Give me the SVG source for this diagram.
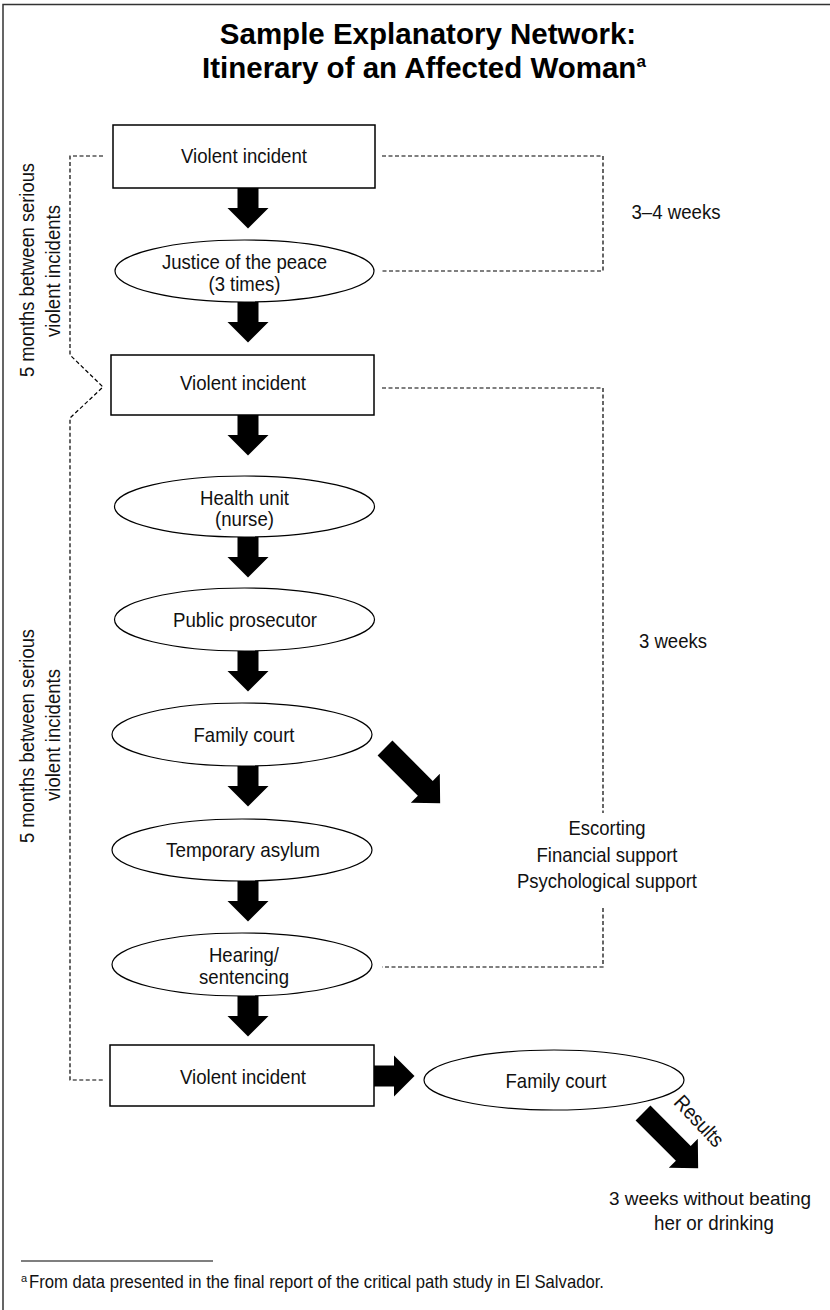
<svg xmlns="http://www.w3.org/2000/svg" xmlns:xlink="http://www.w3.org/1999/xlink" width="830" height="1310" viewBox="0 0 830 1310">
  <style>
    .frame { stroke: #333; stroke-width: 1.5; fill: none; }
    .box { fill: #fff; stroke: #000; stroke-width: 1.5; }
    .oval { fill: #fff; stroke: #000; stroke-width: 1.2; }
    .lbl { font-family: "Liberation Sans", Arial, sans-serif; font-size: 21px; fill: #111; text-anchor: middle; }
    .title { font-family: "Liberation Sans", Arial, sans-serif; font-size: 29.5px; font-weight: bold; fill: #000; }
    .note { font-family: "Liberation Sans", Arial, sans-serif; font-size: 19px; fill: #111; }
    .dash { fill: none; stroke: #000; stroke-width: 1.2; stroke-dasharray: 4 2.5; }
    .big { fill: #000; }
  </style>
  <defs>
    <path id="arrowShort" d="M-10.5,0 H10.5 V20 H20.5 L0,40.5 L-20.5,20 H-10.5 Z"/>
    <path id="arrowLong" d="M-10.5,0 H10.5 V57 H20.5 L0,78 L-20.5,57 H-10.5 Z"/>
  </defs>
  <rect width="830" height="1310" fill="#fff"/>
  <path class="frame" d="M3,1310 V4.5 H830"/>

  <g id="title">
    <text class="title" x="428" y="44" text-anchor="middle">Sample Explanatory Network:</text>
    <text class="title" x="202" y="78">Itinerary of an Affected Woman<tspan style="font-size:17px" dy="-11">a</tspan></text>
  </g>

  <g id="connectors">
    <path class="dash" d="M382,156 H603 V271 H382"/>
    <path class="dash" d="M382,388 H603 V813"/>
    <path class="dash" d="M603,908 V967 H382"/>
    <path class="dash" d="M103,156 H70 V355 L103,387 L70,418 V1080 H103"/>
    <use href="#arrowShort" class="big" x="248" y="188"/>
    <use href="#arrowShort" class="big" x="248" y="302"/>
    <use href="#arrowShort" class="big" x="248" y="415"/>
    <use href="#arrowShort" class="big" x="248" y="537"/>
    <use href="#arrowShort" class="big" x="248" y="651"/>
    <use href="#arrowShort" class="big" x="248" y="766"/>
    <use href="#arrowShort" class="big" x="248" y="881"/>
    <use href="#arrowShort" class="big" x="248" y="996"/>
    <use href="#arrowShort" class="big" transform="translate(374,1076) rotate(-90)"/>
    <use href="#arrowLong" class="big" transform="translate(385,748) rotate(-45)"/>
    <use href="#arrowLong" class="big" transform="translate(643,1113) rotate(-45)"/>
  </g>

  <g id="node-violent-1">
    <rect class="box" x="113" y="125" width="262" height="63"/>
    <text class="lbl" x="244" y="163" textLength="126" lengthAdjust="spacingAndGlyphs">Violent incident</text>
  </g>
  <g id="node-justice">
    <ellipse class="oval" cx="244.5" cy="271" rx="129.5" ry="31"/>
    <text class="lbl" x="244.5" y="269" textLength="165" lengthAdjust="spacingAndGlyphs">Justice of the peace</text>
    <text class="lbl" x="244.5" y="291" textLength="72" lengthAdjust="spacingAndGlyphs">(3 times)</text>
  </g>
  <g id="node-violent-2">
    <rect class="box" x="111" y="355" width="263" height="60"/>
    <text class="lbl" x="243" y="390" textLength="126" lengthAdjust="spacingAndGlyphs">Violent incident</text>
  </g>
  <g id="node-health">
    <ellipse class="oval" cx="244.5" cy="506.5" rx="130" ry="30.5"/>
    <text class="lbl" x="244.5" y="505" textLength="89" lengthAdjust="spacingAndGlyphs">Health unit</text>
    <text class="lbl" x="244.5" y="526" textLength="59" lengthAdjust="spacingAndGlyphs">(nurse)</text>
  </g>
  <g id="node-prosecutor">
    <ellipse class="oval" cx="244.5" cy="619.5" rx="130" ry="31.5"/>
    <text class="lbl" x="245" y="627" textLength="144" lengthAdjust="spacingAndGlyphs">Public prosecutor</text>
  </g>
  <g id="node-family-court-1">
    <ellipse class="oval" cx="242" cy="734.5" rx="130" ry="31.5"/>
    <text class="lbl" x="244" y="742" textLength="101" lengthAdjust="spacingAndGlyphs">Family court</text>
  </g>
  <g id="node-asylum">
    <ellipse class="oval" cx="242" cy="850" rx="130" ry="31"/>
    <text class="lbl" x="243" y="857" textLength="154" lengthAdjust="spacingAndGlyphs">Temporary asylum</text>
  </g>
  <g id="node-hearing">
    <ellipse class="oval" cx="242" cy="964.5" rx="130" ry="31.5"/>
    <text class="lbl" x="244" y="962" textLength="70" lengthAdjust="spacingAndGlyphs">Hearing/</text>
    <text class="lbl" x="244" y="984" textLength="90" lengthAdjust="spacingAndGlyphs">sentencing</text>
  </g>
  <g id="node-violent-3">
    <rect class="box" x="110" y="1045" width="264" height="61"/>
    <text class="lbl" x="243" y="1084" textLength="126" lengthAdjust="spacingAndGlyphs">Violent incident</text>
  </g>
  <g id="node-family-court-2">
    <ellipse class="oval" cx="554" cy="1080" rx="130" ry="30"/>
    <text class="lbl" x="556" y="1088" textLength="101" lengthAdjust="spacingAndGlyphs">Family court</text>
  </g>

  <g id="labels">
    <text class="lbl" x="676" y="219" textLength="89" lengthAdjust="spacingAndGlyphs">3–4 weeks</text>
    <text class="lbl" x="673" y="648" textLength="68" lengthAdjust="spacingAndGlyphs">3 weeks</text>
    <text class="lbl" x="607" y="835" textLength="77" lengthAdjust="spacingAndGlyphs">Escorting</text>
    <text class="lbl" x="607" y="862" textLength="141" lengthAdjust="spacingAndGlyphs">Financial support</text>
    <text class="lbl" x="607" y="888" textLength="180" lengthAdjust="spacingAndGlyphs">Psychological support</text>
    <text class="lbl" transform="translate(694,1126) rotate(47)" textLength="62" lengthAdjust="spacingAndGlyphs">Results</text>
    <text class="lbl" x="710" y="1205" style="font-size:19px" textLength="202" lengthAdjust="spacingAndGlyphs">3 weeks without beating</text>
    <text class="lbl" x="714" y="1230" textLength="120" lengthAdjust="spacingAndGlyphs">her or drinking</text>
    <text class="lbl" transform="translate(34,270) rotate(-90)" textLength="214" lengthAdjust="spacingAndGlyphs">5 months between serious</text>
    <text class="lbl" transform="translate(60,271) rotate(-90)" textLength="132" lengthAdjust="spacingAndGlyphs">violent incidents</text>
    <text class="lbl" transform="translate(34,736) rotate(-90)" textLength="214" lengthAdjust="spacingAndGlyphs">5 months between serious</text>
    <text class="lbl" transform="translate(60,735) rotate(-90)" textLength="132" lengthAdjust="spacingAndGlyphs">violent incidents</text>
  </g>

  <g id="footnote">
    <line x1="21" y1="1261" x2="213" y2="1261" stroke="#555" stroke-width="1.5"/>
    <text class="note" x="21" y="1282" style="font-size:11px">a</text>
    <text class="note" x="29" y="1288" textLength="575" lengthAdjust="spacingAndGlyphs">From data presented in the final report of the critical path study in El Salvador.</text>
  </g>
</svg>
